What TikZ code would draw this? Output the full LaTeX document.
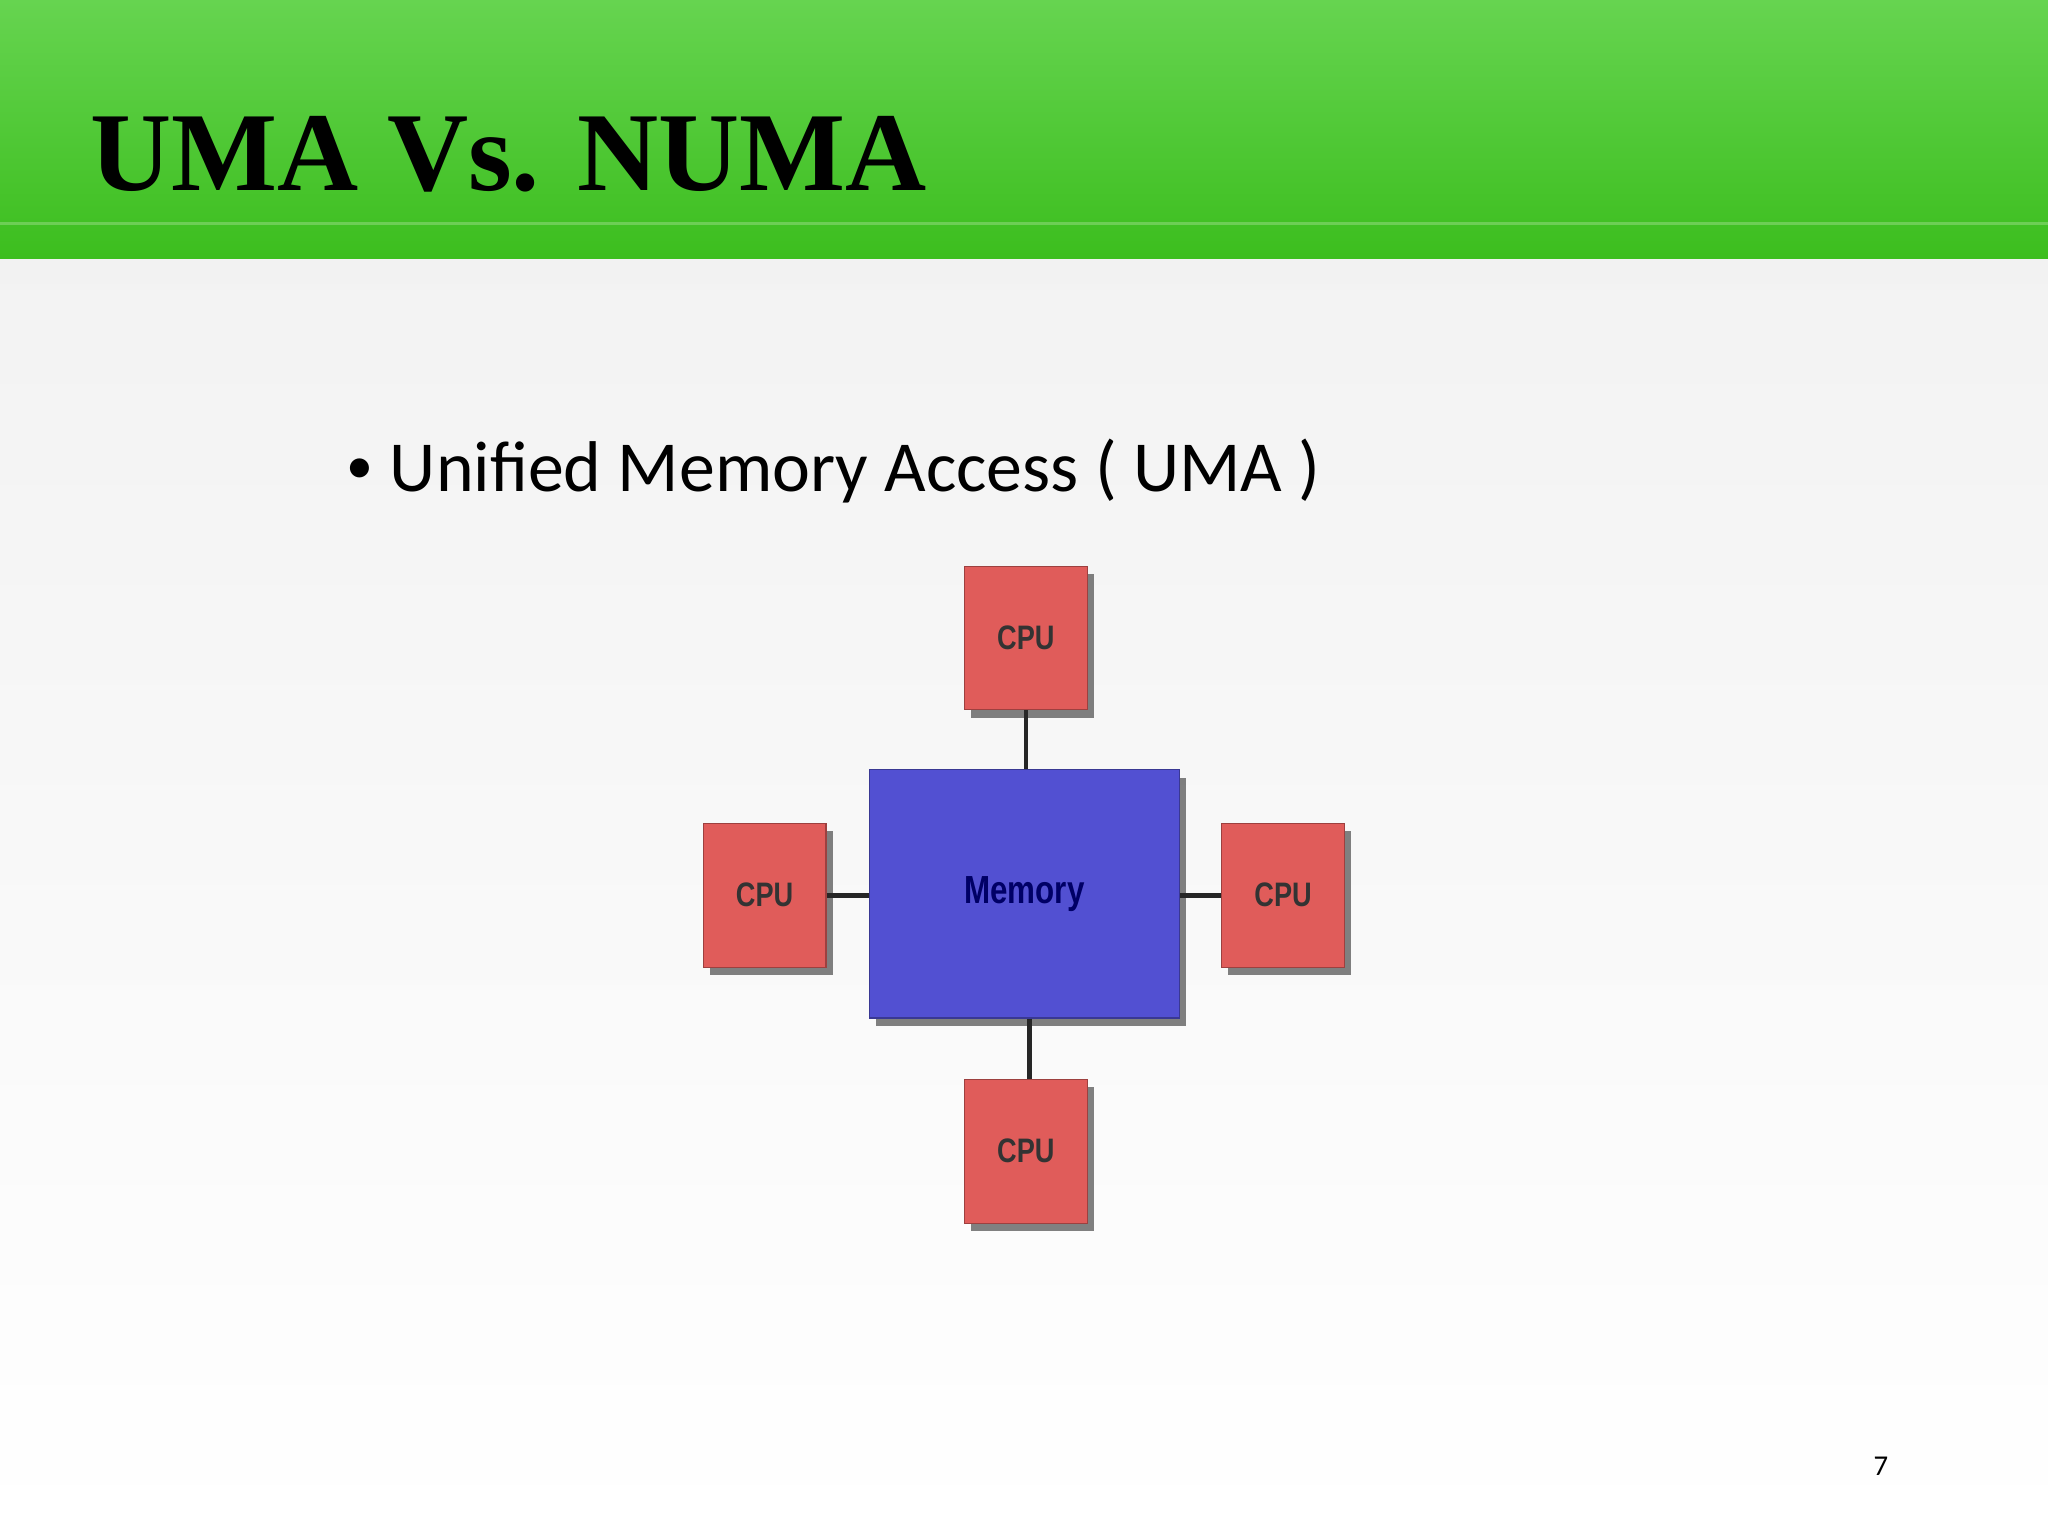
\documentclass[tikz,border=0pt]{standalone}
\usepackage{fontspec}
\setmainfont{Carlito}
\newfontfamily\titlefont{Liberation Serif}
\newfontfamily\boxfont{Liberation Sans}
\usetikzlibrary{shadows}
\definecolor{gtop}{HTML}{66D450}
\definecolor{gbot}{HTML}{3CBE1E}
\definecolor{cpuc}{HTML}{E05C5A}
\definecolor{memc}{HTML}{5250D2}
\begin{document}
\begin{tikzpicture}[x=1pt,y=-1pt,
  box/.style={draw=cpuc!70!black,line width=0.8pt,inner sep=0pt,anchor=north west,
    drop shadow={shadow xshift=5pt,shadow yshift=-6pt,fill=black!70,opacity=0.7}},
  cpubox/.style={box,fill=cpuc,minimum width=94pt,minimum height=110pt,
    font=\boxfont\bfseries\fontsize{26}{26}\selectfont,text=black!80},
  wire/.style={line width=3.5pt,draw=black!85}]
\useasboundingbox (0,0) rectangle (1568,1175);
\shade[top color=white!95!black,bottom color=white] (0,198) rectangle (1568,1175);
\shade[top color=gtop,bottom color=gbot] (0,0) rectangle (1568,198);
\draw[white!25!gbot,line width=2pt] (0,171) -- (1568,171);
\node[anchor=base west,font=\titlefont\bfseries\fontsize{86}{86}\selectfont] (title) at (66,146) {UMA Vs. NUMA};
\node[anchor=base west,font=\fontsize{55}{55}\selectfont] (bullet) at (262,376) {\raisebox{6pt}{\scalebox{0.75}{\textbullet}}\ Unified Memory Access ( UMA )};
\node[anchor=base,font=\fontsize{22}{22}\selectfont] (pg) at (1440,1130) {7};
\node[box,fill=memc,draw=memc!70!black,minimum width=238pt,minimum height=190pt,
  font=\boxfont\bfseries\fontsize{30}{30}\selectfont,text=black!60!blue] (mem) at (665,589) {\scalebox{0.8}[1]{Memory}};
\node[cpubox] (ct) at (738,433) {\scalebox{0.8}[1]{CPU}};
\node[cpubox] (cl) at (538,630) {\scalebox{0.8}[1]{CPU}};
\node[cpubox] (cr) at (935,630) {\scalebox{0.8}[1]{CPU}};
\node[cpubox] (cb) at (738,826) {\scalebox{0.8}[1]{CPU}};
\draw[wire] (ct.south) -- (mem.north -| ct.south);
\draw[wire] (cl.east) -- (mem.west |- cl.east);
\draw[wire] (mem.east |- cr.west) -- (cr.west);
\draw[wire] ([xshift=4pt]mem.south) -- ([xshift=4pt]mem.south |- cb.north);
\end{tikzpicture}
\end{document}
